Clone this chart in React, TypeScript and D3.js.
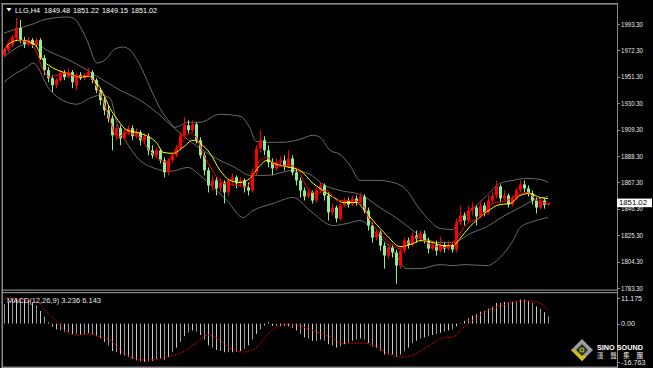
import React from "react";
import * as d3 from "d3";

// ---------- DATA (LLG, H4) ----------
const opens = [1968.6,1972.6,1976.6,1982.1,1990.1,1980.5,1977.3,1980.5,1976.6,1980.5,
1966.2,1956.6,1950.2,1944.6,1948.6,1954.2,1951.0,1955.0,1944.6,1952.6,
1950.2,1952.6,1955.0,1948.6,1940.7,1932.7,1924.7,1918.3,1904.8,1910.4,
1902.4,1907.2,1910.4,1904.0,1907.2,1900.8,1904.0,1892.8,1888.8,1892.8,
1884.8,1875.3,1884.8,1888.8,1894.4,1904.8,1912.7,1908.8,1913.5,1900.8,
1888.8,1876.9,1864.9,1868.9,1862.5,1867.3,1859.3,1868.9,1871.3,1866.5,
1868.9,1863.3,1860.9,1875.3,1894.4,1900.8,1892.8,1883.2,1878.4,1883.2,
1884.8,1880.0,1886.4,1875.3,1868.9,1860.9,1856.1,1859.3,1852.9,1860.9,
1864.9,1856.9,1843.4,1847.3,1838.6,1848.9,1852.9,1849.7,1854.5,1851.3,
1856.1,1844.9,1833.0,1823.4,1827.4,1817.0,1809.1,1815.4,1811.5,1801.1,
1813.0,1821.0,1817.8,1825.0,1822.6,1826.6,1821.0,1814.6,1817.8,1813.0,
1817.0,1814.6,1817.0,1813.8,1835.4,1841.0,1837.0,1844.9,1847.3,1840.2,
1848.9,1843.4,1852.9,1856.9,1864.1,1854.5,1856.9,1849.7,1854.5,1860.9,
1865.7,1862.5,1858.5,1852.9,1847.3,1852.9,1849.48];
const highs = [1974.2,1978.9,1984.5,1998.1,1996.5,1982.9,1982.9,1982.1,1982.1,1982.1,
1968.6,1959.0,1952.6,1950.2,1956.6,1956.6,1958.2,1956.6,1954.2,1955.0,
1954.2,1958.2,1956.6,1950.2,1942.3,1935.1,1928.7,1920.7,1912.7,1912.7,
1910.4,1912.7,1912.7,1910.4,1908.8,1906.4,1906.4,1896.8,1895.2,1894.4,
1887.2,1886.4,1891.2,1896.8,1907.2,1919.1,1916.7,1916.7,1915.1,1903.2,
1891.2,1879.2,1872.9,1871.3,1870.5,1868.9,1870.5,1874.5,1872.9,1871.3,
1870.5,1867.3,1878.4,1896.8,1908.8,1904.0,1896.8,1886.4,1886.4,1888.0,
1888.8,1892.8,1888.8,1878.4,1871.3,1863.3,1862.5,1860.9,1863.3,1867.3,
1866.5,1859.3,1850.5,1848.9,1850.5,1855.3,1855.3,1856.9,1856.9,1859.3,
1857.7,1847.3,1835.4,1830.6,1829.0,1819.4,1818.6,1817.8,1813.8,1815.4,
1823.4,1823.4,1827.4,1829.0,1829.0,1829.0,1823.4,1821.0,1821.0,1824.2,
1819.4,1821.0,1818.6,1838.6,1848.9,1843.4,1848.9,1851.3,1848.9,1852.9,
1851.3,1856.9,1859.3,1868.9,1865.7,1860.9,1858.5,1856.9,1862.5,1868.9,
1868.9,1864.9,1860.9,1855.3,1855.3,1854.5,1851.22];
const lows = [1967.0,1971.0,1975.0,1980.5,1978.1,1974.2,1975.8,1974.2,1975.0,1964.6,
1952.6,1947.0,1939.1,1942.3,1947.0,1948.6,1950.2,1942.3,1940.7,1948.6,
1948.6,1951.0,1946.2,1938.3,1928.7,1920.7,1915.1,1892.8,1900.8,1896.8,
1900.8,1904.8,1900.8,1902.4,1896.8,1898.4,1888.8,1886.4,1887.2,1882.4,
1871.3,1872.9,1883.2,1887.2,1892.8,1903.2,1906.4,1907.2,1898.4,1886.4,
1872.9,1859.3,1860.9,1856.9,1859.3,1850.5,1856.9,1864.9,1862.5,1864.1,
1859.3,1856.9,1859.3,1872.9,1891.2,1888.8,1879.2,1872.9,1876.9,1880.8,
1876.9,1878.4,1872.9,1864.9,1855.3,1852.9,1854.5,1850.5,1851.3,1859.3,
1852.9,1837.0,1841.0,1835.4,1837.0,1847.3,1847.3,1848.1,1848.9,1849.7,
1842.6,1829.0,1819.4,1821.0,1813.0,1798.7,1806.7,1807.5,1786.7,1798.7,
1810.7,1814.6,1816.2,1819.4,1821.0,1818.6,1810.7,1813.0,1809.1,1811.5,
1811.5,1813.0,1811.5,1811.5,1833.0,1833.0,1835.4,1841.0,1833.0,1838.6,
1840.2,1841.8,1850.5,1854.5,1851.3,1852.9,1847.3,1848.1,1852.9,1859.3,
1859.3,1856.1,1849.7,1842.6,1845.7,1846.5,1849.15];
const closes = [1972.6,1976.6,1982.1,1990.1,1980.5,1977.3,1980.5,1976.6,1980.5,1966.2,
1956.6,1950.2,1944.6,1948.6,1954.2,1951.0,1955.0,1947.0,1952.6,1950.2,
1952.6,1955.0,1948.6,1940.7,1932.7,1924.7,1918.3,1904.8,1910.4,1902.4,
1907.2,1910.4,1904.0,1907.2,1900.8,1904.0,1892.8,1888.8,1892.8,1884.8,
1875.3,1884.8,1888.8,1894.4,1904.8,1912.7,1908.8,1913.5,1900.8,1888.8,
1876.9,1864.9,1868.9,1862.5,1867.3,1859.3,1868.9,1871.3,1866.5,1868.9,
1863.3,1860.9,1875.3,1894.4,1900.8,1892.8,1883.2,1878.4,1883.2,1884.8,
1880.0,1886.4,1875.3,1868.9,1860.9,1856.1,1859.3,1852.9,1860.9,1864.9,
1856.9,1843.4,1847.3,1838.6,1848.9,1852.9,1849.7,1854.5,1851.3,1856.1,
1844.9,1833.0,1823.4,1827.4,1817.0,1809.1,1815.4,1811.5,1801.1,1813.0,
1821.0,1817.8,1825.0,1822.6,1826.6,1821.0,1814.6,1817.8,1813.0,1817.0,
1814.6,1817.0,1813.8,1835.4,1841.0,1837.0,1844.9,1847.3,1840.2,1848.9,
1843.4,1852.9,1856.9,1864.1,1854.5,1856.9,1849.7,1854.5,1860.9,1865.7,
1862.5,1858.5,1852.9,1847.3,1852.9,1849.5,1851.02];

// Indicator lines: [candle index, value]
const upperBand: [number, number][] = [[0,1986.1],[2.25,1988.5],[7.25,1993.3],[9.75,1996.5],[15.75,1998.9],[17.25,1998.1],[20.75,1980.5],[23.25,1962.2],[25.25,1964.6],[27.75,1973.4],[29.75,1975.0],[31.5,1972.6],[34,1960.6],[36.5,1943.0],[39,1926.3],[41.5,1915.1],[42.75,1911.1],[46,1915.1],[49,1915.1],[54,1921.5],[59,1919.9],[61.5,1910.4],[63,1900.0],[65.75,1899.2],[69.75,1899.2],[74,1901.6],[77.25,1904.8],[79,1903.2],[81.5,1892.8],[84,1889.6],[86.5,1880.8],[89,1868.9],[93.25,1868.9],[97.25,1867.3],[100.75,1860.9],[103.25,1848.9],[105.25,1841.0],[109,1830.6],[112.25,1829.8],[113.25,1835.4],[116.5,1844.1],[120.75,1856.9],[124,1866.5],[127.25,1868.9],[130.75,1870.5],[134,1869.7],[136,1867.3]];
const middleBand: [number, number][] = [[0,1967.0],[4,1975.8],[7.25,1978.1],[11.5,1971.0],[15.75,1965.4],[20.75,1956.6],[24,1950.2],[29,1940.7],[34,1932.7],[39,1920.7],[44,1906.4],[49,1894.4],[54,1884.8],[57.75,1879.2],[61.5,1872.9],[65.75,1872.9],[72.25,1876.9],[76.5,1873.7],[79.75,1865.7],[84,1860.9],[89,1857.7],[94,1847.3],[99,1837.0],[102.25,1829.0],[105.25,1822.6],[109,1819.4],[112.25,1819.4],[116.5,1826.6],[120.75,1832.2],[124.75,1840.2],[129,1847.3],[132.25,1852.9],[136,1856.1]];
const lowerBand: [number, number][] = [[0,1947.0],[2.25,1952.6],[5.75,1959.0],[7.25,1962.2],[11.5,1940.7],[16.5,1930.3],[18.25,1929.5],[21.5,1934.3],[24,1936.7],[26.5,1934.3],[28.25,1914.3],[30.75,1898.4],[34,1884.8],[37.75,1878.4],[41.5,1876.1],[46,1879.2],[49,1872.9],[52.25,1863.3],[55.75,1852.9],[59.75,1839.4],[62.25,1844.9],[67.25,1850.5],[72.25,1855.3],[76.5,1844.9],[82.25,1833.0],[85.75,1834.6],[89,1837.0],[92.25,1829.0],[97.25,1813.0],[100.75,1798.7],[104,1798.7],[109,1801.9],[112.25,1801.1],[115.25,1801.9],[120.75,1801.1],[124,1807.5],[127.25,1821.0],[129,1831.4],[132.25,1836.2],[136,1839.4]];
const redMA: [number, number][] = [[0,1971.0],[2.25,1982.9],[4,1980.5],[6.5,1978.1],[8.25,1970.2],[9.5,1959.0],[11.5,1951.0],[13.25,1952.6],[15.75,1954.2],[18.25,1951.0],[20.75,1952.6],[23.25,1943.0],[24.75,1932.7],[26.5,1916.7],[28.25,1903.2],[30.75,1906.4],[34,1903.2],[35.75,1895.2],[38.25,1887.2],[40.75,1883.2],[42.25,1890.4],[44.5,1899.2],[46.5,1906.4],[48.25,1902.4],[49.75,1890.4],[52.25,1876.1],[54.75,1866.5],[58.25,1864.9],[60.75,1864.1],[62.25,1872.9],[64,1884.8],[65.75,1887.2],[68.25,1880.0],[71.5,1880.8],[73.25,1878.4],[75.75,1863.3],[78.25,1858.5],[80.75,1860.9],[83.25,1852.9],[84.75,1852.9],[87.25,1852.9],[89.75,1848.9],[91.5,1837.0],[94,1826.6],[96.5,1818.6],[99,1814.6],[100.75,1818.6],[103.25,1823.4],[107.25,1817.0],[110.75,1815.4],[113.25,1823.4],[115.75,1834.6],[119,1839.4],[122.25,1850.5],[125.75,1852.9],[128.25,1856.9],[130.75,1859.3],[133.25,1852.9],[136,1850.5]];
const yellowMA: [number, number][] = [[0,1971.8],[1.5,1978.1],[4,1980.5],[6.5,1978.9],[8.25,1975.0],[9.75,1964.6],[11.5,1959.8],[14,1955.8],[16.5,1953.4],[19,1951.0],[21,1951.8],[23.25,1946.2],[24.75,1938.3],[26.5,1926.3],[28.5,1916.7],[30.75,1908.8],[34,1906.4],[38.25,1898.4],[39.75,1891.2],[42.25,1890.4],[44.75,1895.2],[47.25,1900.8],[49,1898.4],[51.5,1890.4],[54,1876.9],[56.5,1868.9],[59,1867.3],[61.5,1870.5],[64,1880.8],[65.75,1884.8],[68.25,1881.6],[71.5,1879.2],[74,1876.9],[77.25,1866.5],[79.75,1860.9],[83.25,1853.7],[84.75,1851.3],[88.25,1851.3],[89.75,1846.5],[92.25,1837.0],[95.75,1825.0],[99,1816.2],[102.25,1818.6],[104,1821.0],[107.25,1819.4],[109.75,1817.0],[112.25,1817.0],[114,1822.6],[116.5,1832.2],[120.75,1844.1],[124,1849.7],[126.5,1850.5],[129,1856.9],[131.5,1858.5],[134,1855.3],[136,1854.5]];

const macdMain = [8.5,9.6,10.5,11.175,10.8,10.3,9.8,9.2,8.0,5.5,
3.0,0.5,-1.5,-2.5,-3.0,-3.5,-3.8,-4.5,-4.5,-4.8,
-4.5,-4.2,-4.8,-5.5,-6.5,-8.0,-9.5,-12.0,-12.5,-13.5,
-14.0,-14.5,-15.5,-16.0,-16.5,-16.763,-16.5,-16.3,-15.5,-15.5,
-16.0,-14.5,-12.5,-10.5,-8.0,-5.5,-4.0,-3.0,-3.5,-5.0,
-7.0,-9.5,-10.5,-11.5,-12.0,-12.5,-12.5,-12.5,-12.3,-12.0,
-11.0,-9.5,-7.0,-4.5,-2.5,-0.8,0.7,-1.0,-1.0,-1.2,
-1.0,-1.2,-2.0,-3.0,-4.5,-6.0,-6.5,-7.5,-7.5,-7.0,
-7.5,-9.0,-9.5,-10.5,-10.0,-9.0,-8.5,-7.5,-7.0,-6.5,
-7.0,-8.5,-10.0,-10.5,-12.0,-13.5,-13.5,-13.5,-14.5,-13.5,
-12.0,-10.5,-8.5,-7.5,-6.5,-6.0,-5.5,-5.0,-4.5,-4.0,
-3.5,-3.0,-2.5,-1.2,0.3,1.2,2.5,3.5,4.2,5.2,
5.5,6.5,7.5,9.0,9.2,9.5,9.3,9.5,10.0,10.5,
10.5,10.0,9.0,7.5,6.5,5.0,3.236];
const macdSignal: [number, number][] = [[0,11.1],[8.25,9.4],[10.75,5.1],[13.25,0.7],[15.75,-3.7],[18.25,-5.0],[21.5,-4.6],[24,-5.8],[26.5,-7.2],[29.75,-12.4],[32.25,-15.0],[35.75,-15.9],[40.75,-14.6],[44.75,-12.4],[48.25,-8.0],[50.75,-5.0],[53.25,-6.3],[56.5,-10.7],[59.75,-12.4],[63.25,-10.2],[65.75,-5.0],[68.25,-1.5],[71.5,-0.2],[74.75,-1.5],[78.25,-3.7],[81.5,-5.8],[84.75,-8.5],[89,-8.5],[92.25,-9.3],[95.75,-12.8],[99,-14.6],[100.75,-14.6],[103.25,-12.8],[106.5,-9.3],[109.75,-6.3],[112.25,-5.8],[114.75,-1.9],[117.25,1.6],[119.75,4.6],[123.25,7.2],[126.5,9.0],[129.75,9.9],[133.25,9.4],[136,6.143]];

const priceTicks = [1993.3,1972.3,1951.3,1930.3,1909.3,1888.3,1867.3,1846.3,1825.3,1804.3,1783.3];
const macdTicks = [11.175, 0, -16.763];
const macdTickLabels = ["11.175", "0.00", "-16.763"];
const titleParts = ["LLG,H4", "1849.48", "1851.22", "1849.15", "1851.02"];
const lastPrice = 1851.02;

const FONT = "'Liberation Sans', Arial, sans-serif";
const UP = "#ff0000";
const DOWN = "#90ee90";
const BORDER = "#8a8a8a";
const BAND = "#6a6a6a";

export default function App() {
  const x = d3.scaleLinear().domain([0, closes.length - 1]).range([4, 548]);
  const y = d3.scaleLinear().domain([1783.3, 1993.3]).range([288, 24]);
  const ym = d3.scaleLinear().domain([-16.763, 11.175]).range([362, 298]);

  const priceLine = d3.line<[number, number]>().x(d => x(d[0])).y(d => y(d[1])).curve(d3.curveMonotoneX);
  const macdLine = d3.line<[number, number]>().x(d => x(d[0])).y(d => ym(d[1])).curve(d3.curveMonotoneX);

  const titleX = [15, 44, 73, 102, 131];
  const titleW = [25, 26, 26, 26, 26];

  return (
    <svg width={653} height={368} style={{ position: "absolute", left: 0, top: 0, display: "block", background: "#000" }}>
      <defs>
        <clipPath id="mainClip"><rect x={3} y={5} width={614} height={284} /></clipPath>
        <clipPath id="macdClip"><rect x={3} y={293} width={614} height={73} /></clipPath>
      </defs>
      <rect x={0} y={0} width={653} height={368} fill="#000" />

      {/* Main panel */}
      <g clipPath="url(#mainClip)">
        <path d={priceLine(upperBand) || ""} fill="none" stroke={BAND} strokeWidth={1} />
        <path d={priceLine(middleBand) || ""} fill="none" stroke={BAND} strokeWidth={1} />
        <path d={priceLine(lowerBand) || ""} fill="none" stroke={BAND} strokeWidth={1} />
        {closes.map((c, i) => {
          const o = opens[i];
          const cx = Math.round(x(i));
          const col = c >= o ? UP : DOWN;
          const top = y(Math.max(o, c));
          const bot = y(Math.min(o, c));
          return (
            <g key={i}>
              <line x1={cx + 0.5} x2={cx + 0.5} y1={y(highs[i])} y2={y(lows[i])} stroke={col} strokeWidth={1} />
              <rect x={cx - 1} y={top} width={3} height={Math.max(1, bot - top)} fill={col} />
            </g>
          );
        })}
        <path d={priceLine(yellowMA) || ""} fill="none" stroke="#ffff00" strokeWidth={1} />
        <path d={priceLine(redMA) || ""} fill="none" stroke="#ff0000" strokeWidth={1} />
      </g>

      {/* MACD panel */}
      <g clipPath="url(#macdClip)">
        {macdMain.map((v, i) => {
          const cx = Math.round(x(i)) + 0.5;
          return <line key={i} x1={cx} x2={cx} y1={ym(0)} y2={ym(v)} stroke={i % 2 ? "#c8c8c8" : "#9a9a9a"} strokeWidth={1} />;
        })}
        <path d={macdLine(macdSignal) || ""} fill="none" stroke="#ff0000" strokeWidth={1} strokeDasharray="1.5,1.5" />
      </g>

      {/* Frame */}
      <rect x={1.5} y={3} width={616} height={1.6} fill={BORDER} />
      <rect x={1.5} y={3} width={1.5} height={365} fill={BORDER} />
      <rect x={617} y={3} width={1} height={365} fill={BORDER} />
      <rect x={1.5} y={289.5} width={616} height={1.2} fill={BORDER} />
      <rect x={1.5} y={292} width={616} height={1.2} fill={BORDER} />
      <rect x={1.5} y={366.5} width={616} height={1.5} fill={BORDER} />

      {/* Title */}
      <path d="M6.5,8 L11.5,8 L9,11.5 Z" fill="#ffffff" />
      {titleParts.map((t, k) => (
        <text key={k} x={titleX[k]} y={12.5} fontSize={7.5} fontFamily={FONT} fill="#ffffff" textLength={titleW[k]} lengthAdjust="spacingAndGlyphs">{t}</text>
      ))}

      {/* Price axis */}
      {priceTicks.map((p, k) => (
        <g key={k}>
          <line x1={617} x2={620} y1={Math.round(y(p)) + 0.5} y2={Math.round(y(p)) + 0.5} stroke={BORDER} />
          <text x={621} y={y(p) + 2.6} fontSize={7} fontFamily={FONT} fill="#e6e6e6" textLength={22} lengthAdjust="spacingAndGlyphs">{p.toFixed(2)}</text>
        </g>
      ))}
      <rect x={617} y={y(lastPrice) - 4.3} width={35} height={8.6} fill="#ffffff" />
      <text x={619} y={y(lastPrice) + 2.6} fontSize={7.5} fontFamily={FONT} fill="#000000" textLength={28} lengthAdjust="spacingAndGlyphs">{lastPrice.toFixed(2)}</text>

      {/* MACD labels */}
      <text x={7} y={302.5} fontSize={7.5} fontFamily={FONT} fill="#e6e6e6" textLength={94} lengthAdjust="spacingAndGlyphs">MACD(12,26,9) 3.236 6.143</text>
      {macdTicks.map((v, k) => (
        <g key={k}>
          <line x1={617} x2={620} y1={Math.round(ym(v)) + 0.5} y2={Math.round(ym(v)) + 0.5} stroke={BORDER} />
          <text x={621} y={ym(v) + 2.6} fontSize={7} fontFamily={FONT} fill="#e6e6e6"
            textLength={macdTickLabels[k].length * 3.5} lengthAdjust="spacingAndGlyphs">{macdTickLabels[k]}</text>
        </g>
      ))}

      {/* Logo */}
      <g>
        <polygon points="582,339 593,350 582,361 571,350" fill="#9c9c9c" />
        <polygon points="571,350 582,361 586,357 576.5,350" fill="#d2bd16" />
        <polygon points="582,344 588,350 582,356 576,350" fill="#2a2a2a" />
        <circle cx={582} cy={350} r={2.6} fill="#8fae2a" />
        <circle cx={582} cy={350} r={1} fill="#1a1a1a" />
        <text x={597} y={349.5} fontSize={7.5} fontWeight="bold" fontFamily={FONT} fill="#ffffff" textLength={46} lengthAdjust="spacingAndGlyphs">SINO SOUND</text>
        <text x={597} y={358} fontSize={6.5} fontFamily="'Noto Sans CJK TC', sans-serif" fill="#ffffff" textLength={46} lengthAdjust="spacing">漢聲集團</text>
      </g>
    </svg>
  );
}
